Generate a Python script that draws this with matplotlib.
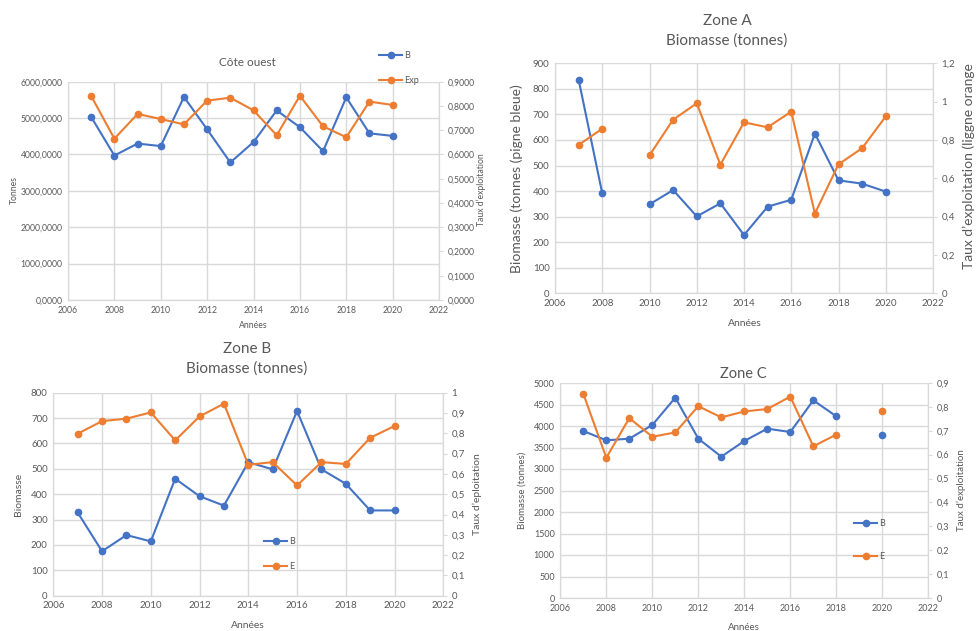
import matplotlib.pyplot as plt
import matplotlib as mpl
import numpy as np
from matplotlib.ticker import FuncFormatter, MultipleLocator

mpl.rcParams['font.family'] = ['Lato', 'DejaVu Sans']

BLUE = '#4472C4'
ORANGE = '#ED7D31'
GREY = '#595959'
GRID = '#D9D9D9'

W, H = 980, 631
years = np.arange(2007, 2021)
nan = np.nan

# Côte ouest
cote_B = [5030, 3970, 4300, 4230, 5580, 4690, 3780, 4340, 5210, 4750, 4090, 5570, 4580, 4510]
cote_Exp = [0.841, 0.665, 0.767, 0.746, 0.724, 0.822, 0.834, 0.782, 0.679, 0.842, 0.716, 0.671, 0.818, 0.804]

# Zone A (no value for 2009)
zoneA_B = [836, 391, nan, 348, 404, 301, 352, 228, 339, 366, 625, 442, 429, 398]
zoneA_E = [0.774, 0.859, nan, 0.720, 0.906, 0.991, 0.671, 0.892, 0.866, 0.948, 0.416, 0.673, 0.757, 0.923]

# Zone B
zoneB_B = [328, 175, 239, 214, 461, 392, 355, 526, 498, 728, 498, 441, 336, 336]
zoneB_E = [0.798, 0.860, 0.872, 0.903, 0.765, 0.883, 0.946, 0.645, 0.658, 0.543, 0.658, 0.649, 0.778, 0.836]

# Zone C (no value for 2019)
zoneC_B = [3884, 3667, 3705, 4023, 4659, 3705, 3287, 3651, 3938, 3860, 4597, 4225, nan, 3798]
zoneC_E = [0.855, 0.587, 0.753, 0.675, 0.693, 0.803, 0.756, 0.781, 0.791, 0.843, 0.635, 0.684, nan, 0.784]

fig = plt.figure(figsize=(W / 100, H / 100), dpi=100)


def px(x, y):
    return x / W, 1 - y / H


def fmt_general(v, p):
    s = f"{v:.1f}".rstrip('0').rstrip('.')
    return s.replace('.', ',')


def fmt_4(v, p):
    return f"{v:.4f}".replace('.', ',')


def make_panel(box, b, e, lmax, lstep, rmax, rstep, lfmt, rfmt, tick_fs, lbl_b, lbl_e):
    l, r, t, bt = box
    ax = fig.add_axes([l / W, 1 - bt / H, (r - l) / W, (bt - t) / H])
    ax2 = ax.twinx()
    ax.plot(years, b, color=BLUE, marker='o', ms=4.5, lw=1.5, label=lbl_b)
    ax2.plot(years, e, color=ORANGE, marker='o', ms=4.5, lw=1.5, label=lbl_e)
    ax.set_xlim(2006, 2022)
    ax.set_ylim(0, lmax)
    ax2.set_ylim(0, rmax)
    ax.xaxis.set_major_locator(MultipleLocator(2))
    ax.yaxis.set_major_locator(MultipleLocator(lstep))
    ax2.yaxis.set_major_locator(MultipleLocator(rstep))
    ax.yaxis.set_major_formatter(FuncFormatter(lfmt))
    ax2.yaxis.set_major_formatter(FuncFormatter(rfmt))
    ax.grid(True, color=GRID, lw=1)
    ax.set_axisbelow(True)
    for a in (ax, ax2):
        for s in a.spines.values():
            s.set_color(GRID)
        a.spines['top'].set_visible(False)
    ax.tick_params(axis='both', length=0, labelsize=tick_fs, labelcolor=GREY, pad=4)
    ax2.tick_params(axis='y', length=3, color=GRID, labelsize=tick_fs, labelcolor=GREY, pad=3)
    return ax, ax2


def txt(x, y, s, fs, rot=0):
    fig.text(*px(x, y), s, fontsize=fs, color=GREY, rotation=rot, ha='center', va='center')


def legend(ax, ax2, x, y, spacing, fs):
    h1, l1 = ax.get_legend_handles_labels()
    h2, l2 = ax2.get_legend_handles_labels()
    fig.legend(h1 + h2, l1 + l2, loc='upper left', bbox_to_anchor=px(x, y), frameon=False,
               fontsize=fs, labelcolor=GREY, handlelength=2.6, handletextpad=0.2,
               labelspacing=spacing, borderpad=0, borderaxespad=0)


# Côte ouest
ax, ax2 = make_panel((68, 439, 81.7, 300), cote_B, cote_Exp, 6000, 1000, 0.9, 0.1,
                     fmt_4, fmt_4, 6.2, 'B', 'Exp')
txt(247, 62, 'Côte ouest', 8.5)
txt(14, 190, 'Tonnes', 6.2, 90)
txt(481, 190, 'Taux d’exploitation', 6.2, 90)
txt(253, 325, 'Années', 6.2)
legend(ax, ax2, 379, 51, 1.75, 6.5)

# Zone A
ax, ax2 = make_panel((555, 933, 63.3, 293.3), zoneA_B, zoneA_E, 900, 100, 1.2, 0.2,
                     fmt_general, fmt_general, 7, 'B', 'E')
txt(727, 21, 'Zone A', 11)
txt(727, 41, 'Biomasse (tonnes)', 11)
txt(517, 179, 'Biomasse (tonnes (pigne bleue)', 10, 90)
txt(969, 166, 'Taux d’exploitation (liggne orange', 10, 90)
txt(745, 324, 'Années', 7.5)

# Zone B
ax, ax2 = make_panel((53.3, 443.3, 392.7, 595.7), zoneB_B, zoneB_E, 800, 100, 1.0, 0.1,
                     fmt_general, fmt_general, 7, 'B', 'E')
txt(247, 349, 'Zone B', 11)
txt(247, 369, 'Biomasse (tonnes)', 11)
txt(18, 494, 'Biomasse', 7.5, 90)
txt(477, 494, 'Taux d’eploitation', 7.5, 90)
txt(248, 626, 'Années', 7.5)
legend(ax, ax2, 264, 537, 1.75, 6.5)

# Zone C
ax, ax2 = make_panel((560.3, 928.3, 383, 598), zoneC_B, zoneC_E, 5000, 500, 0.9, 0.1,
                     fmt_general, fmt_general, 6.5, 'B', 'E')
txt(743, 374, 'Zone C', 10.5)
txt(522, 490, 'Biomasse (tonnes)', 7, 90)
txt(961, 490, 'Taux d’exploitation', 7, 90)
txt(744, 627, 'Années', 7)
legend(ax, ax2, 854, 519, 2.65, 6.5)

fig.savefig('out.png', dpi=100)
